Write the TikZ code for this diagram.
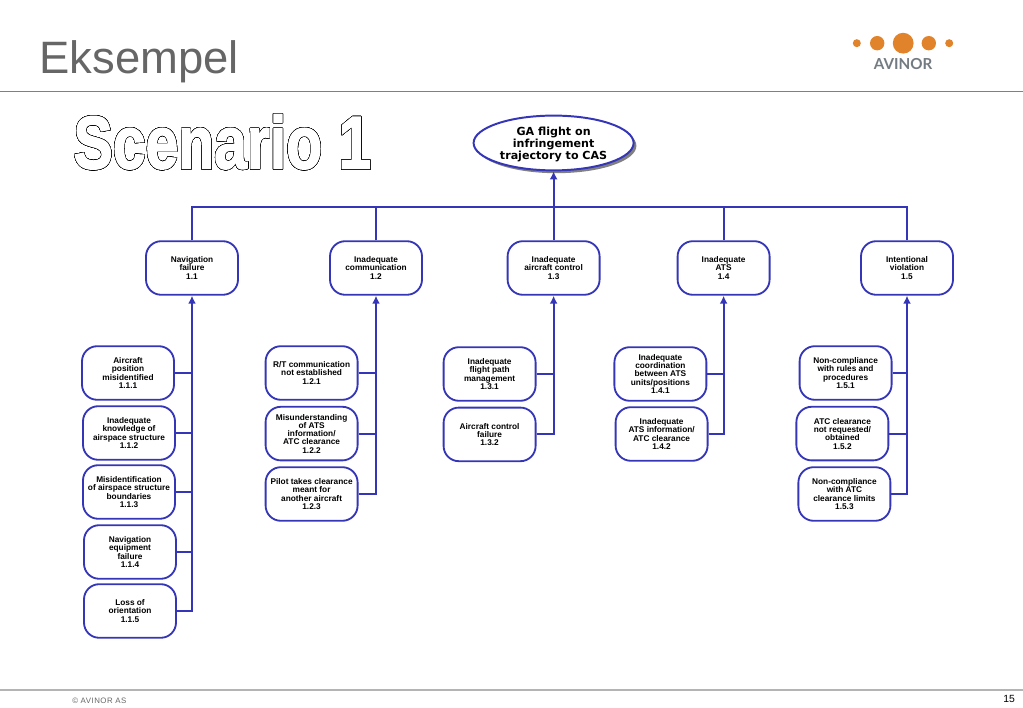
\documentclass[tikz,border=0pt]{standalone}
\usepackage{fontspec}
\usepackage{xcolor}
\usepackage[copies]{contour}
\setmainfont{Liberation Sans}
\newfontfamily\rootfont{DejaVu Sans}
\newfontfamily\logofont{Lato}
\newfontfamily\heavyfont[FakeBold=2.2]{Liberation Sans Bold}
\usetikzlibrary{arrows.meta,shapes.geometric,shadows}
\definecolor{Link}{HTML}{3535B8}
\definecolor{Slate}{HTML}{666666}
\definecolor{Rule}{HTML}{808080}
\definecolor{RuleLight}{HTML}{B4B4B4}
\definecolor{Logo}{HTML}{E0832B}
\definecolor{LogoText}{HTML}{737B82}
\contourlength{0.3pt}
\contournumber{32}

\begin{document}
\begin{tikzpicture}[
  cause/.style={draw=Link,line width=1.3pt,rounded corners=3.8mm,fill=white,align=center,
    minimum width=23mm,minimum height=13.4mm,inner sep=0pt,
    font=\fontsize{5.9}{5.9}\selectfont\bfseries},
  top/.style={draw=Link,line width=1.4pt,ellipse,fill=white,align=center,
    minimum width=40mm,minimum height=13.7mm,inner sep=0pt,text depth=0pt,
    font=\rootfont\fontsize{7.9}{8.6}\selectfont\bfseries,
    drop shadow={shadow xshift=0.7mm,shadow yshift=-0.7mm,fill=gray,opacity=1}},
  edge/.style={-{Latex[length=2mm,width=2mm]},line width=1.5pt,color=Link},
  branch/.style={line width=1.4pt,color=Link},
  title/.style={font=\fontsize{32.3}{34}\selectfont,color=Slate},
  dot/.style={fill=Logo}
]
\useasboundingbox (0,0) rectangle (25.575,17.7);

% Slide frame: title, logo, footer.
\node[title,anchor=base west,inner sep=0pt] (heading) at (0.98,15.85) {Eksempel};
\draw[color=Rule,line width=0.7pt] (0,15.42)--(25.575,15.42);
\draw[color=RuleLight,line width=0.9pt] (0,0.45)--(25.575,0.45);
\fill[dot] (21.42,16.62) circle (0.1);
\fill[dot] (21.93,16.62) circle (0.18);
\fill[dot] (22.58,16.62) circle (0.26);
\fill[dot] (23.22,16.62) circle (0.18);
\fill[dot] (23.73,16.62) circle (0.1);
\node[font=\logofont\fontsize{10.8}{11}\selectfont\bfseries,color=LogoText,inner sep=0pt] (brand) at (22.58,16.09) {AVINOR};
\node[font=\fontsize{5.6}{6}\selectfont,color=Slate,anchor=west,inner sep=0pt] (owner) at (1.8,0.18) {\addfontfeature{LetterSpace=6}© AVINOR AS};
\node[font=\fontsize{7.4}{8}\selectfont,anchor=east,inner sep=0pt] (pageno) at (25.38,0.23) {15};

% Outlined scenario heading.
\node[font=\heavyfont\fontsize{53}{55}\selectfont,color=white,xscale=0.79,transform shape,inner sep=0pt] (scenario) at (5.56,14.15) {\contour{black}{Scenario 1}};

% Top event and first level.
\node[top] (root) at (13.84,14.125) {GA flight on\\infringement\\trajectory to CAS};
\coordinate (bus) at (13.84,12.525);
\node[cause] (n11) at (4.8,11) {Navigation\\failure\\1.1};
\node[cause] (n12) at (9.4,11) {Inadequate\\communication\\1.2};
\node[cause] (n13) at (13.84,11) {Inadequate\\aircraft control\\1.3};
\node[cause] (n14) at (18.09,11) {Inadequate\\ATS\\1.4};
\node[cause] (n15) at (22.675,11) {Intentional\\violation\\1.5};
\draw[edge] (bus)--(root.south);
\draw[branch] (n11.north)|-(bus);
\draw[branch] (n12.north)|-(bus);
\draw[branch] (n13.north)--(bus);
\draw[branch] (n14.north)|-(bus);
\draw[branch] (n15.north)|-(bus);

% Navigation failure.
\node[cause] (n111) at (3.2,8.375) {Aircraft\\position\\misidentified\\1.1.1};
\node[cause] (n112) at (3.225,6.875) {Inadequate\\knowledge of\\airspace structure\\1.1.2};
\node[cause] (n113) at (3.225,5.4) {Misidentification\\of airspace structure\\boundaries\\1.1.3};
\node[cause] (n114) at (3.25,3.9) {Navigation\\equipment\\failure\\1.1.4};
\node[cause] (n115) at (3.25,2.425) {Loss of\\orientation\\1.1.5};
\draw[edge] (n115.east)-|(n11.south);
\draw[branch] (n111.east)--(n111.east-|n11.south);
\draw[branch] (n112.east)--(n112.east-|n11.south);
\draw[branch] (n113.east)--(n113.east-|n11.south);
\draw[branch] (n114.east)--(n114.east-|n11.south);

% Inadequate communication.
\node[cause] (n121) at (7.79,8.375) {R/T communication\\not established\\1.2.1};
\node[cause] (n122) at (7.79,6.86) {Misunderstanding\\of ATS\\information/\\ATC clearance\\1.2.2};
\node[cause] (n123) at (7.79,5.35) {Pilot takes clearance\\meant for\\another aircraft\\1.2.3};
\draw[edge] (n123.east)-|(n12.south);
\draw[branch] (n121.east)--(n121.east-|n12.south);
\draw[branch] (n122.east)--(n122.east-|n12.south);

% Inadequate aircraft control.
\node[cause] (n131) at (12.24,8.35) {Inadequate\\flight path\\management\\1.3.1};
\node[cause] (n132) at (12.24,6.84) {Aircraft control\\failure\\1.3.2};
\draw[edge] (n132.east)-|(n13.south);
\draw[branch] (n131.east)--(n131.east-|n13.south);

% Inadequate ATS.
\node[cause] (n141) at (16.51,8.35) {Inadequate\\coordination\\between ATS\\units/positions\\1.4.1};
\node[cause] (n142) at (16.54,6.85) {Inadequate\\ATS information/\\ATC clearance\\1.4.2};
\draw[edge] (n142.east)-|(n14.south);
\draw[branch] (n141.east)--(n141.east-|n14.south);

% Intentional violation.
\node[cause] (n151) at (21.14,8.375) {Non-compliance\\with rules and\\procedures\\1.5.1};
\node[cause] (n152) at (21.06,6.86) {ATC clearance\\not requested/\\obtained\\1.5.2};
\node[cause] (n153) at (21.11,5.35) {Non-compliance\\with ATC\\clearance limits\\1.5.3};
\draw[edge] (n153.east)-|(n15.south);
\draw[branch] (n151.east)--(n151.east-|n15.south);
\draw[branch] (n152.east)--(n152.east-|n15.south);
\end{tikzpicture}
\end{document}
